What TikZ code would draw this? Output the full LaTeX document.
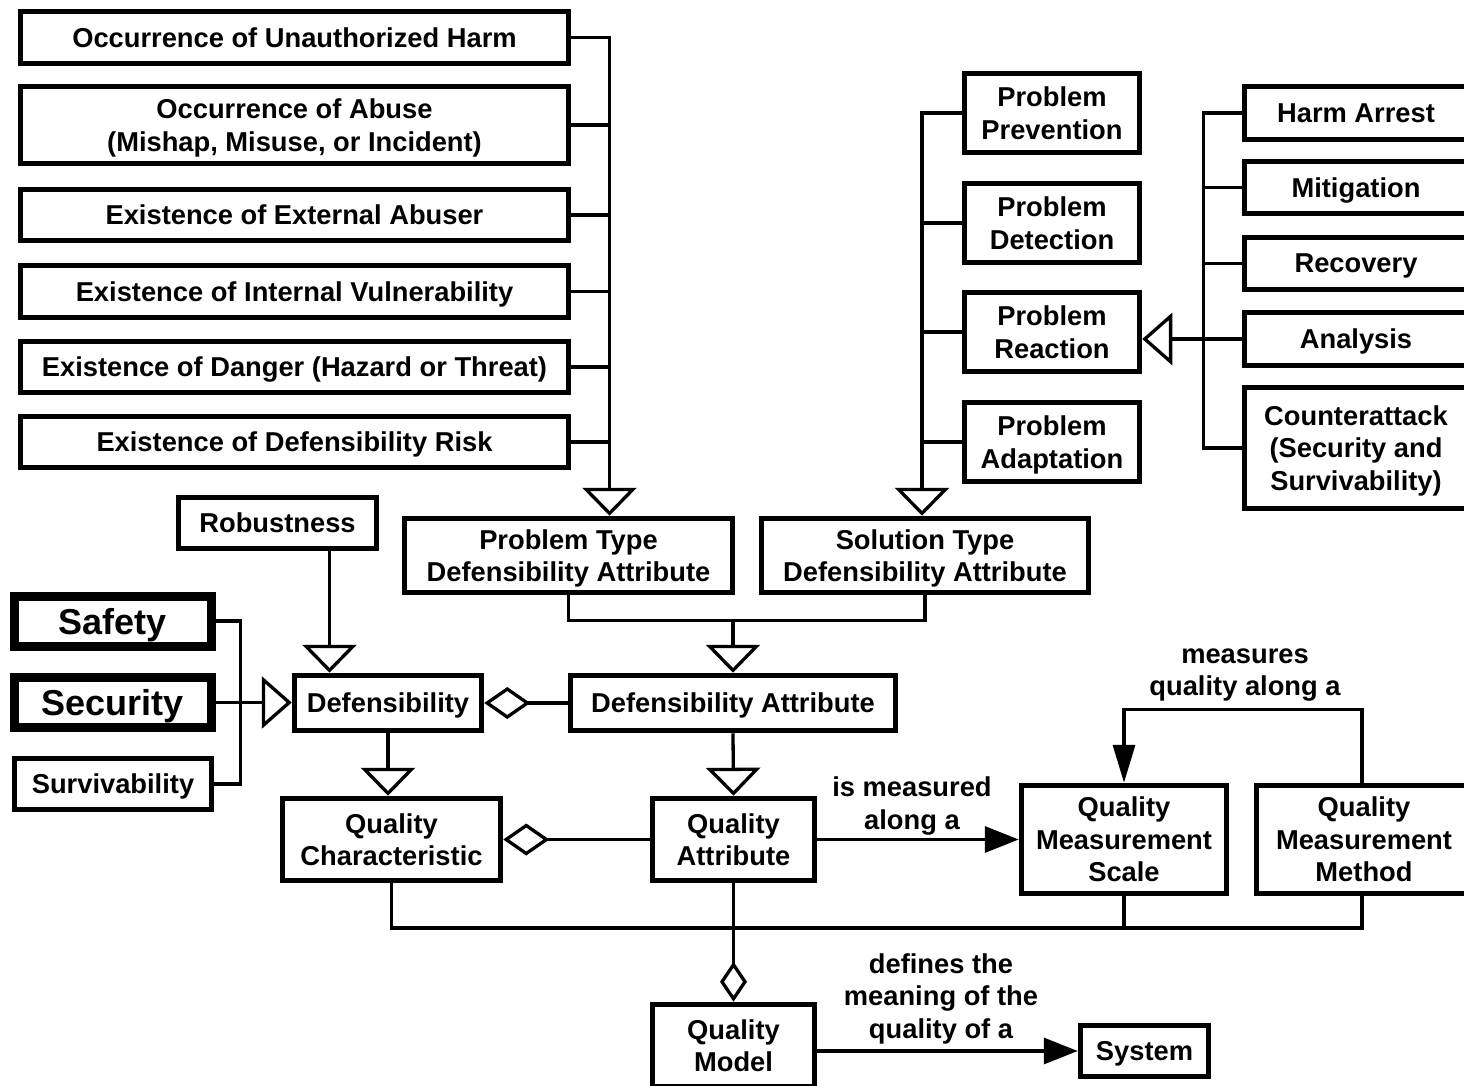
\documentclass[tikz,border=0pt]{standalone}
\usepackage{fontspec}
\setmainfont{Liberation Sans}
\usetikzlibrary{arrows.meta,calc}
\begin{document}
\begin{tikzpicture}[x=1pt,y=-1pt,
  box/.style={draw, line width=5.5pt, inner sep=0pt, align=center, text depth=0pt,
    font=\bfseries\fontsize{27.3}{32.5}\selectfont},
  bigbox/.style={box, line width=9pt, font=\bfseries\fontsize{36}{40}\selectfont},
  lbl/.style={inner sep=0pt, align=center, text depth=0pt,
    font=\bfseries\fontsize{27.3}{32.5}\selectfont},
  conn/.style={line width=3.3pt},
  gen/.style={conn, -{Triangle[open,length=28pt,width=54pt]}},
  genh/.style={conn, -{Triangle[open,length=30pt,width=52pt]}},
  agg/.style={conn, {Diamond[open,length=46pt,width=32pt]}-},
  aggend/.style={conn, -{Diamond[open,length=40pt,width=27pt]}},
  assoc/.style={conn, -{Triangle[length=34pt,width=26pt]}},
  assocv/.style={conn, -{Triangle[length=38pt,width=22pt]}}
]
\useasboundingbox (0,0) rectangle (1464,1086);
\clip (0,0) rectangle (1464,1086);

% problem kinds
\node[box, minimum width=548pt, minimum height=52pt] (b1) at (294.5,37.5) {Occurrence of Unauthorized Harm};
\node[box, minimum width=548pt, minimum height=77pt] (b2) at (294.5,125) {Occurrence of Abuse\\(Mishap, Misuse, or Incident)};
\node[box, minimum width=548pt, minimum height=51pt] (b3) at (294.5,215) {Existence of External Abuser};
\node[box, minimum width=548pt, minimum height=52pt] (b4) at (294.5,291.5) {Existence of Internal Vulnerability};
\node[box, minimum width=548pt, minimum height=51pt] (b5) at (294.5,367) {Existence of Danger (Hazard or Threat)};
\node[box, minimum width=548pt, minimum height=51pt] (b6) at (294.5,442) {Existence of Defensibility Risk};

% solution kinds
\node[box, minimum width=175pt, minimum height=79pt] (pp) at (1052,113) {Problem\\Prevention};
\node[box, minimum width=175pt, minimum height=79pt] (pd) at (1052,223) {Problem\\Detection};
\node[box, minimum width=175pt, minimum height=79pt] (pr) at (1052,332) {Problem\\Reaction};
\node[box, minimum width=175pt, minimum height=79pt] (pa) at (1052,442) {Problem\\Adaptation};

% reaction kinds
\node[box, minimum width=223pt, minimum height=53pt] (ha) at (1356,113) {Harm Arrest};
\node[box, minimum width=223pt, minimum height=52pt] (mi) at (1356,187.5) {Mitigation};
\node[box, minimum width=223pt, minimum height=52pt] (rc) at (1356,263.5) {Recovery};
\node[box, minimum width=223pt, minimum height=53pt] (an) at (1356,339) {Analysis};
\node[box, minimum width=223pt, minimum height=121pt] (ca) at (1356,448) {Counterattack\\(Security and\\Survivability)};

% attribute types
\node[box, minimum width=328pt, minimum height=74pt] (pt) at (568.5,555.5) {Problem Type\\Defensibility Attribute};
\node[box, minimum width=327pt, minimum height=74pt] (st) at (925,555.5) {Solution Type\\Defensibility Attribute};

% defensibility
\node[box, minimum width=198pt, minimum height=51pt] (rb) at (277.5,523) {Robustness};
\node[bigbox, minimum width=197pt, minimum height=50pt] (sa) at (112.5,621) {Safety};
\node[bigbox, minimum width=197pt, minimum height=50pt] (se) at (112.5,702.5) {Security};
\node[box, minimum width=197pt, minimum height=51pt] (sv) at (113,784) {Survivability};
\node[box, minimum width=187pt, minimum height=55pt] (df) at (388,703) {Defensibility};
\node[box, minimum width=325pt, minimum height=55pt] (da) at (733,703) {Defensibility Attribute};

% quality model
\node[box, minimum width=218pt, minimum height=82pt] (qc) at (391.5,839.5) {Quality\\Characteristic};
\node[box, minimum width=162pt, minimum height=82pt] (qa) at (733.5,839.5) {Quality\\Attribute};
\node[box, minimum width=205pt, minimum height=108pt] (qms) at (1124,839.5) {Quality\\Measurement\\Scale};
\node[box, minimum width=215pt, minimum height=108pt] (qmm) at (1364,839.5) {Quality\\Measurement\\Method};
\node[box, minimum width=162pt, minimum height=82pt] (qm) at (733.5,1045.5) {Quality\\Model};
\node[box, minimum width=128pt, minimum height=51pt] (sys) at (1144.5,1051) {System};

% problem tree
\coordinate (ptin) at ($(pt.north)+(41,0)$);
\draw[gen] (b1.east) -| (ptin);
\foreach \b in {b2,b3,b4,b5,b6} \draw[conn] (\b.east) -- (\b.east -| ptin);

% solution tree
\coordinate (stin) at ($(st.north)+(-3,0)$);
\draw[gen] (pp.west) -| (stin);
\foreach \b in {pd,pr,pa} \draw[conn] (\b.west) -- (\b.west -| stin);

% reaction tree
\coordinate (rbus) at ($(ha.west)+(-38,0)$);
\draw[conn] (ha.west) -- (rbus) |- (ca.west);
\foreach \b in {mi,rc} \draw[conn] (\b.west) -- (\b.west -| rbus);
\draw[genh] (an.west) -- (an.west -| pr.east);

% defensibility kinds
\draw[gen] ([xshift=52pt]rb.south) -- ([xshift=52pt]rb.south |- df.north);
\draw[conn] (sa.east) -- ++(25,0) |- (sv.east);
\draw[genh] (se.east) -- (se.east -| df.west);
\draw[agg] (df.east) -- (da.west);

% attribute types to defensibility attribute
\coordinate (tj) at ($(pt.south)+(0,25)$);
\draw[conn] (pt.south) -- (tj) -| (st.south);
\draw[gen] (tj -| da.north) -- (da.north);

\draw[gen] (df.south) -- (df.south |- qc.north);
\draw[gen] (da.south) -- (qa.north);
\draw[agg] (qc.east) -- (qa.west);

% measurement
\draw[assoc] (qa.east) -- (qms.west);
\node[lbl] (l1) at (912,803) {is measured\\along a};
\draw[assocv] ([xshift=-2pt]qmm.north) -- ++(0,-73) -| (qms.north);
\node[lbl] (l2) at (1245,672) {measures\\quality along a};

% bus to quality model
\coordinate (bus) at (0,928);
\draw[conn] (qc.south) -- (qc.south |- bus) -- ([xshift=-2pt]qmm.south |- bus) -- ([xshift=-2pt]qmm.south);
\draw[conn] (qms.south) -- (qms.south |- bus);
\draw[aggend] (qa.south) -- (qm.north);

\draw[assoc] (qm.east |- sys.west) -- (sys.west);
\node[lbl] (l3) at (941,996) {defines the\\meaning of the\\quality of a};
\end{tikzpicture}
\end{document}
